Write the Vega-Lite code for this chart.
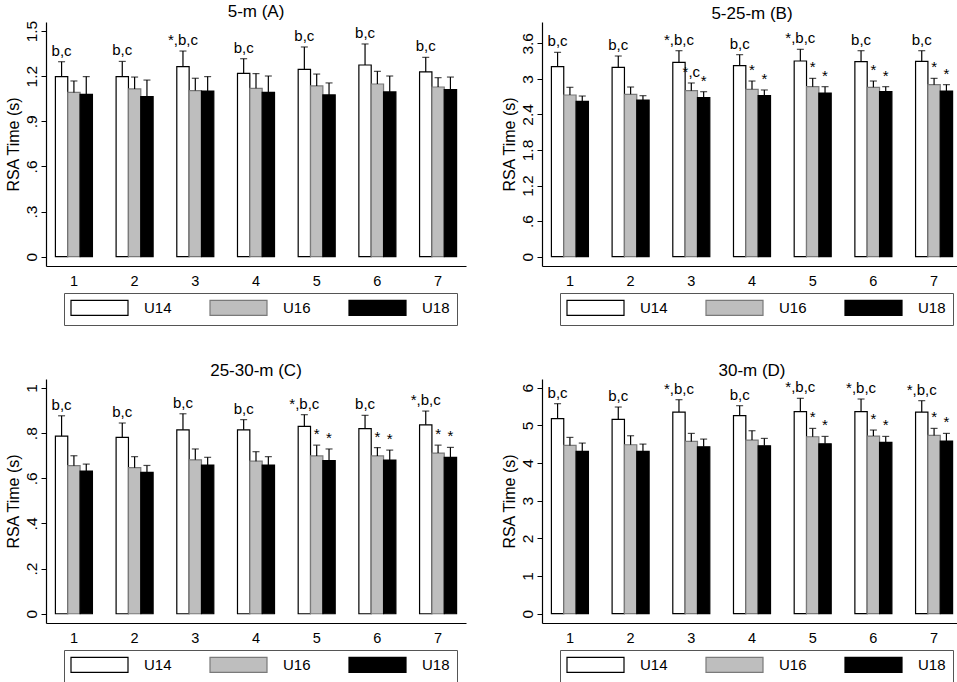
{
  "$schema": "https://vega.github.io/schema/vega-lite/v6.json",
  "description": "RSA time by sprint and age group, four distances",
  "padding": {"left": 5, "top": 3, "right": 0, "bottom": 0},
  "background": "white",
  "datasets": {
    "A": [
      {"sprint": 1, "group": "U14", "mean": 1.197, "upper": 1.296, "label": "b,c"},
      {"sprint": 1, "group": "U16", "mean": 1.092, "upper": 1.168, "label": ""},
      {"sprint": 1, "group": "U18", "mean": 1.079, "upper": 1.197, "label": ""},
      {"sprint": 2, "group": "U14", "mean": 1.197, "upper": 1.298, "label": "b,c"},
      {"sprint": 2, "group": "U16", "mean": 1.115, "upper": 1.194, "label": ""},
      {"sprint": 2, "group": "U18", "mean": 1.064, "upper": 1.174, "label": ""},
      {"sprint": 3, "group": "U14", "mean": 1.263, "upper": 1.367, "label": "*,b,c"},
      {"sprint": 3, "group": "U16", "mean": 1.104, "upper": 1.186, "label": ""},
      {"sprint": 3, "group": "U18", "mean": 1.101, "upper": 1.197, "label": ""},
      {"sprint": 4, "group": "U14", "mean": 1.219, "upper": 1.316, "label": "b,c"},
      {"sprint": 4, "group": "U16", "mean": 1.119, "upper": 1.217, "label": ""},
      {"sprint": 4, "group": "U18", "mean": 1.092, "upper": 1.201, "label": ""},
      {"sprint": 5, "group": "U14", "mean": 1.245, "upper": 1.394, "label": "b,c"},
      {"sprint": 5, "group": "U16", "mean": 1.135, "upper": 1.214, "label": ""},
      {"sprint": 5, "group": "U18", "mean": 1.075, "upper": 1.155, "label": ""},
      {"sprint": 6, "group": "U14", "mean": 1.274, "upper": 1.414, "label": "b,c"},
      {"sprint": 6, "group": "U16", "mean": 1.148, "upper": 1.232, "label": ""},
      {"sprint": 6, "group": "U18", "mean": 1.095, "upper": 1.201, "label": ""},
      {"sprint": 7, "group": "U14", "mean": 1.228, "upper": 1.325, "label": "b,c"},
      {"sprint": 7, "group": "U16", "mean": 1.128, "upper": 1.190, "label": ""},
      {"sprint": 7, "group": "U18", "mean": 1.110, "upper": 1.194, "label": ""}
    ],
    "B": [
      {"sprint": 1, "group": "U14", "mean": 3.206, "upper": 3.448, "label": "b,c"},
      {"sprint": 1, "group": "U16", "mean": 2.728, "upper": 2.858, "label": ""},
      {"sprint": 1, "group": "U18", "mean": 2.621, "upper": 2.711, "label": ""},
      {"sprint": 2, "group": "U14", "mean": 3.195, "upper": 3.386, "label": "b,c"},
      {"sprint": 2, "group": "U16", "mean": 2.739, "upper": 2.863, "label": ""},
      {"sprint": 2, "group": "U18", "mean": 2.644, "upper": 2.717, "label": ""},
      {"sprint": 3, "group": "U14", "mean": 3.279, "upper": 3.476, "label": "*,b,c"},
      {"sprint": 3, "group": "U16", "mean": 2.801, "upper": 2.931, "label": "*,c"},
      {"sprint": 3, "group": "U18", "mean": 2.683, "upper": 2.784, "label": "*"},
      {"sprint": 4, "group": "U14", "mean": 3.223, "upper": 3.409, "label": "b,c"},
      {"sprint": 4, "group": "U16", "mean": 2.824, "upper": 2.964, "label": "*"},
      {"sprint": 4, "group": "U18", "mean": 2.717, "upper": 2.813, "label": "*"},
      {"sprint": 5, "group": "U14", "mean": 3.302, "upper": 3.499, "label": "*,b,c"},
      {"sprint": 5, "group": "U16", "mean": 2.869, "upper": 3.009, "label": "*"},
      {"sprint": 5, "group": "U18", "mean": 2.762, "upper": 2.869, "label": "*"},
      {"sprint": 6, "group": "U14", "mean": 3.291, "upper": 3.476, "label": "b,c"},
      {"sprint": 6, "group": "U16", "mean": 2.858, "upper": 2.964, "label": "*"},
      {"sprint": 6, "group": "U18", "mean": 2.784, "upper": 2.869, "label": "*"},
      {"sprint": 7, "group": "U14", "mean": 3.296, "upper": 3.476, "label": "b,c"},
      {"sprint": 7, "group": "U16", "mean": 2.903, "upper": 3.009, "label": "*"},
      {"sprint": 7, "group": "U18", "mean": 2.796, "upper": 2.903, "label": "*"}
    ],
    "C": [
      {"sprint": 1, "group": "U14", "mean": 0.787, "upper": 0.877, "label": "b,c"},
      {"sprint": 1, "group": "U16", "mean": 0.656, "upper": 0.700, "label": ""},
      {"sprint": 1, "group": "U18", "mean": 0.632, "upper": 0.663, "label": ""},
      {"sprint": 2, "group": "U14", "mean": 0.781, "upper": 0.845, "label": "b,c"},
      {"sprint": 2, "group": "U16", "mean": 0.647, "upper": 0.696, "label": ""},
      {"sprint": 2, "group": "U18", "mean": 0.626, "upper": 0.657, "label": ""},
      {"sprint": 3, "group": "U14", "mean": 0.815, "upper": 0.886, "label": "b,c"},
      {"sprint": 3, "group": "U16", "mean": 0.682, "upper": 0.730, "label": ""},
      {"sprint": 3, "group": "U18", "mean": 0.659, "upper": 0.693, "label": ""},
      {"sprint": 4, "group": "U14", "mean": 0.815, "upper": 0.860, "label": "b,c"},
      {"sprint": 4, "group": "U16", "mean": 0.676, "upper": 0.718, "label": ""},
      {"sprint": 4, "group": "U18", "mean": 0.659, "upper": 0.696, "label": ""},
      {"sprint": 5, "group": "U14", "mean": 0.830, "upper": 0.882, "label": "*,b,c"},
      {"sprint": 5, "group": "U16", "mean": 0.699, "upper": 0.747, "label": "*"},
      {"sprint": 5, "group": "U18", "mean": 0.679, "upper": 0.730, "label": "*"},
      {"sprint": 6, "group": "U14", "mean": 0.820, "upper": 0.879, "label": "b,c"},
      {"sprint": 6, "group": "U16", "mean": 0.699, "upper": 0.736, "label": "*"},
      {"sprint": 6, "group": "U18", "mean": 0.681, "upper": 0.725, "label": "*"},
      {"sprint": 7, "group": "U14", "mean": 0.837, "upper": 0.898, "label": "*,b,c"},
      {"sprint": 7, "group": "U16", "mean": 0.712, "upper": 0.747, "label": "*"},
      {"sprint": 7, "group": "U18", "mean": 0.693, "upper": 0.737, "label": "*"}
    ],
    "D": [
      {"sprint": 1, "group": "U14", "mean": 5.176, "upper": 5.575, "label": "b,c"},
      {"sprint": 1, "group": "U16", "mean": 4.467, "upper": 4.680, "label": ""},
      {"sprint": 1, "group": "U18", "mean": 4.307, "upper": 4.529, "label": ""},
      {"sprint": 2, "group": "U14", "mean": 5.158, "upper": 5.486, "label": "b,c"},
      {"sprint": 2, "group": "U16", "mean": 4.485, "upper": 4.724, "label": ""},
      {"sprint": 2, "group": "U18", "mean": 4.307, "upper": 4.502, "label": ""},
      {"sprint": 3, "group": "U14", "mean": 5.353, "upper": 5.681, "label": "*,b,c"},
      {"sprint": 3, "group": "U16", "mean": 4.573, "upper": 4.786, "label": ""},
      {"sprint": 3, "group": "U18", "mean": 4.431, "upper": 4.635, "label": ""},
      {"sprint": 4, "group": "U14", "mean": 5.256, "upper": 5.522, "label": "b,c"},
      {"sprint": 4, "group": "U16", "mean": 4.609, "upper": 4.857, "label": ""},
      {"sprint": 4, "group": "U18", "mean": 4.458, "upper": 4.653, "label": ""},
      {"sprint": 5, "group": "U14", "mean": 5.362, "upper": 5.717, "label": "*,b,c"},
      {"sprint": 5, "group": "U16", "mean": 4.697, "upper": 4.919, "label": "*"},
      {"sprint": 5, "group": "U18", "mean": 4.511, "upper": 4.706, "label": "*"},
      {"sprint": 6, "group": "U14", "mean": 5.362, "upper": 5.699, "label": "*,b,c"},
      {"sprint": 6, "group": "U16", "mean": 4.715, "upper": 4.875, "label": "*"},
      {"sprint": 6, "group": "U18", "mean": 4.547, "upper": 4.706, "label": "*"},
      {"sprint": 7, "group": "U14", "mean": 5.353, "upper": 5.655, "label": "*,b,c"},
      {"sprint": 7, "group": "U16", "mean": 4.733, "upper": 4.919, "label": "*"},
      {"sprint": 7, "group": "U18", "mean": 4.582, "upper": 4.786, "label": "*"}
    ]
  },
  "columns": 2,
  "spacing": {"row": 36, "column": 35},
  "resolve": {
    "scale": {"y": "independent", "fill": "independent", "stroke": "independent"},
    "legend": {"fill": "independent", "stroke": "independent"}
  },
  "concat": [
    {
      "title": "5-m (A)",
      "width": 420,
      "height": 244,
      "data": {"name": "A"},
      "encoding": {
        "x": {"field": "sprint", "type": "ordinal", "title": null, "scale": {"paddingInner": 0.39, "paddingOuter": 0.155},
              "axis": {"labelFontSize": 14.5, "labelAngle": 0, "ticks": false, "labelPadding": 8, "domainColor": "#000", "labelColor": "#000"}},
        "xOffset": {"field": "group", "type": "nominal", "scale": {"paddingInner": 0, "paddingOuter": 0}}
      },
      "layer": [
        {
          "mark": {"type": "bar", "strokeWidth": 1.2},
          "encoding": {
            "y": {
              "field": "mean", "type": "quantitative", "title": "RSA Time (s)",
              "scale": {"domain": [-0.062, 1.56], "nice": false, "zero": false},
              "axis": {"values": [0, 0.3, 0.6, 0.9, 1.2, 1.5], "labelExpr": "datum.value > 0 && datum.value < 1 ? substring(format(datum.value, '~g'), 1) : format(datum.value, '~g')",
                       "labelFontSize": 15.5, "titleFontSize": 16, "titleFontWeight": "normal", "labelAngle": -90, "labelAlign": "center", "labelBaseline": "alphabetic", "labelPadding": 5, "titlePadding": 3, "tickSize": 5, "grid": false}
            },
            "y2": {"datum": 0},
            "fill": {"field": "group", "type": "nominal", "scale": {"domain": ["U14", "U16", "U18"], "range": ["#ffffff", "#bebebe", "#000000"]}, "legend": {"title": null, "orient": "none", "direction": "horizontal", "legendX": 18, "legendY": 271}},
            "stroke": {"field": "group", "type": "nominal", "scale": {"domain": ["U14", "U16", "U18"], "range": ["#000000", "#7a7a7a", "#000000"]}, "legend": {"title": null, "orient": "none", "direction": "horizontal", "legendX": 18, "legendY": 271}}
          }
        },
        {"mark": {"type": "rule", "color": "#000", "strokeWidth": 1.2}, "encoding": {"y": {"field": "mean", "type": "quantitative"}, "y2": {"field": "upper"}}},
        {"mark": {"type": "tick", "color": "#000", "size": 7, "thickness": 1.2}, "encoding": {"y": {"field": "upper", "type": "quantitative"}}},
        {"mark": {"type": "text", "baseline": "alphabetic", "dy": -6, "fontSize": 15}, "encoding": {"y": {"field": "upper", "type": "quantitative"}, "text": {"field": "label"}}}
      ]
    },
    {
      "title": "5-25-m (B)",
      "width": 420,
      "height": 244,
      "data": {"name": "B"},
      "encoding": {
        "x": {"field": "sprint", "type": "ordinal", "title": null, "scale": {"paddingInner": 0.39, "paddingOuter": 0.155},
              "axis": {"labelFontSize": 14.5, "labelAngle": 0, "ticks": false, "labelPadding": 8, "domainColor": "#000", "labelColor": "#000"}},
        "xOffset": {"field": "group", "type": "nominal", "scale": {"paddingInner": 0, "paddingOuter": 0}}
      },
      "layer": [
        {
          "mark": {"type": "bar", "strokeWidth": 1.2},
          "encoding": {
            "y": {
              "field": "mean", "type": "quantitative", "title": "RSA Time (s)",
              "scale": {"domain": [-0.157, 3.96], "nice": false, "zero": false},
              "axis": {"values": [0, 0.6, 1.2, 1.8, 2.4, 3, 3.6], "labelExpr": "datum.value > 0 && datum.value < 1 ? substring(format(datum.value, '~g'), 1) : format(datum.value, '~g')",
                       "labelFontSize": 15.5, "titleFontSize": 16, "titleFontWeight": "normal", "labelAngle": -90, "labelAlign": "center", "labelBaseline": "alphabetic", "labelPadding": 5, "titlePadding": 3, "tickSize": 5, "grid": false}
            },
            "y2": {"datum": 0},
            "fill": {"field": "group", "type": "nominal", "scale": {"domain": ["U14", "U16", "U18"], "range": ["#ffffff", "#bebebe", "#000000"]}, "legend": {"title": null, "orient": "none", "direction": "horizontal", "legendX": 18, "legendY": 271}},
            "stroke": {"field": "group", "type": "nominal", "scale": {"domain": ["U14", "U16", "U18"], "range": ["#000000", "#7a7a7a", "#000000"]}, "legend": {"title": null, "orient": "none", "direction": "horizontal", "legendX": 18, "legendY": 271}}
          }
        },
        {"mark": {"type": "rule", "color": "#000", "strokeWidth": 1.2}, "encoding": {"y": {"field": "mean", "type": "quantitative"}, "y2": {"field": "upper"}}},
        {"mark": {"type": "tick", "color": "#000", "size": 7, "thickness": 1.2}, "encoding": {"y": {"field": "upper", "type": "quantitative"}}},
        {"mark": {"type": "text", "baseline": "alphabetic", "dy": -6, "fontSize": 15}, "encoding": {"y": {"field": "upper", "type": "quantitative"}, "text": {"field": "label"}}}
      ]
    },
    {
      "title": "25-30-m (C)",
      "width": 420,
      "height": 244,
      "data": {"name": "C"},
      "encoding": {
        "x": {"field": "sprint", "type": "ordinal", "title": null, "scale": {"paddingInner": 0.39, "paddingOuter": 0.155},
              "axis": {"labelFontSize": 14.5, "labelAngle": 0, "ticks": false, "labelPadding": 8, "domainColor": "#000", "labelColor": "#000"}},
        "xOffset": {"field": "group", "type": "nominal", "scale": {"paddingInner": 0, "paddingOuter": 0}}
      },
      "layer": [
        {
          "mark": {"type": "bar", "strokeWidth": 1.2},
          "encoding": {
            "y": {
              "field": "mean", "type": "quantitative", "title": "RSA Time (s)",
              "scale": {"domain": [-0.041, 1.04], "nice": false, "zero": false},
              "axis": {"values": [0, 0.2, 0.4, 0.6, 0.8, 1], "labelExpr": "datum.value > 0 && datum.value < 1 ? substring(format(datum.value, '~g'), 1) : format(datum.value, '~g')",
                       "labelFontSize": 15.5, "titleFontSize": 16, "titleFontWeight": "normal", "labelAngle": -90, "labelAlign": "center", "labelBaseline": "alphabetic", "labelPadding": 5, "titlePadding": 3, "tickSize": 5, "grid": false}
            },
            "y2": {"datum": 0},
            "fill": {"field": "group", "type": "nominal", "scale": {"domain": ["U14", "U16", "U18"], "range": ["#ffffff", "#bebebe", "#000000"]}, "legend": {"title": null, "orient": "none", "direction": "horizontal", "legendX": 18, "legendY": 271}},
            "stroke": {"field": "group", "type": "nominal", "scale": {"domain": ["U14", "U16", "U18"], "range": ["#000000", "#7a7a7a", "#000000"]}, "legend": {"title": null, "orient": "none", "direction": "horizontal", "legendX": 18, "legendY": 271}}
          }
        },
        {"mark": {"type": "rule", "color": "#000", "strokeWidth": 1.2}, "encoding": {"y": {"field": "mean", "type": "quantitative"}, "y2": {"field": "upper"}}},
        {"mark": {"type": "tick", "color": "#000", "size": 7, "thickness": 1.2}, "encoding": {"y": {"field": "upper", "type": "quantitative"}}},
        {"mark": {"type": "text", "baseline": "alphabetic", "dy": -6, "fontSize": 15}, "encoding": {"y": {"field": "upper", "type": "quantitative"}, "text": {"field": "label"}}}
      ]
    },
    {
      "title": "30-m (D)",
      "width": 420,
      "height": 244,
      "data": {"name": "D"},
      "encoding": {
        "x": {"field": "sprint", "type": "ordinal", "title": null, "scale": {"paddingInner": 0.39, "paddingOuter": 0.155},
              "axis": {"labelFontSize": 14.5, "labelAngle": 0, "ticks": false, "labelPadding": 8, "domainColor": "#000", "labelColor": "#000"}},
        "xOffset": {"field": "group", "type": "nominal", "scale": {"paddingInner": 0, "paddingOuter": 0}}
      },
      "layer": [
        {
          "mark": {"type": "bar", "strokeWidth": 1.2},
          "encoding": {
            "y": {
              "field": "mean", "type": "quantitative", "title": "RSA Time (s)",
              "scale": {"domain": [-0.247, 6.23], "nice": false, "zero": false},
              "axis": {"values": [0, 1, 2, 3, 4, 5, 6], "labelExpr": "format(datum.value, '~g')",
                       "labelFontSize": 15.5, "titleFontSize": 16, "titleFontWeight": "normal", "labelAngle": -90, "labelAlign": "center", "labelBaseline": "alphabetic", "labelPadding": 5, "titlePadding": 3, "tickSize": 5, "grid": false}
            },
            "y2": {"datum": 0},
            "fill": {"field": "group", "type": "nominal", "scale": {"domain": ["U14", "U16", "U18"], "range": ["#ffffff", "#bebebe", "#000000"]}, "legend": {"title": null, "orient": "none", "direction": "horizontal", "legendX": 18, "legendY": 271}},
            "stroke": {"field": "group", "type": "nominal", "scale": {"domain": ["U14", "U16", "U18"], "range": ["#000000", "#7a7a7a", "#000000"]}, "legend": {"title": null, "orient": "none", "direction": "horizontal", "legendX": 18, "legendY": 271}}
          }
        },
        {"mark": {"type": "rule", "color": "#000", "strokeWidth": 1.2}, "encoding": {"y": {"field": "mean", "type": "quantitative"}, "y2": {"field": "upper"}}},
        {"mark": {"type": "tick", "color": "#000", "size": 7, "thickness": 1.2}, "encoding": {"y": {"field": "upper", "type": "quantitative"}}},
        {"mark": {"type": "text", "baseline": "alphabetic", "dy": -6, "fontSize": 15}, "encoding": {"y": {"field": "upper", "type": "quantitative"}, "text": {"field": "label"}}}
      ]
    }
  ],
  "config": {
    "font": "Liberation Sans",
    "view": {"stroke": null},
    "title": {"fontSize": 17, "fontWeight": "normal", "color": "#000", "offset": -1},
    "text": {"color": "#000"},
    "axis": {
      "domainColor": "#000",
      "domainWidth": 1.2,
      "tickColor": "#000",
      "labelColor": "#000",
      "titleColor": "#000"
    },
    "legend": {
      "symbolType": "M-4.385,-1.15H4.385V1.15H-4.385Z",
      "symbolSize": 169,
      "symbolOffset": 21,
      "symbolStrokeWidth": 1.2,
      "labelFontSize": 15,
      "labelColor": "#000",
      "labelOffset": 37,
      "columnPadding": 35,
      "padding": 7,
      "strokeColor": "#555",
      "fillColor": "#fff"
    }
  }
}
